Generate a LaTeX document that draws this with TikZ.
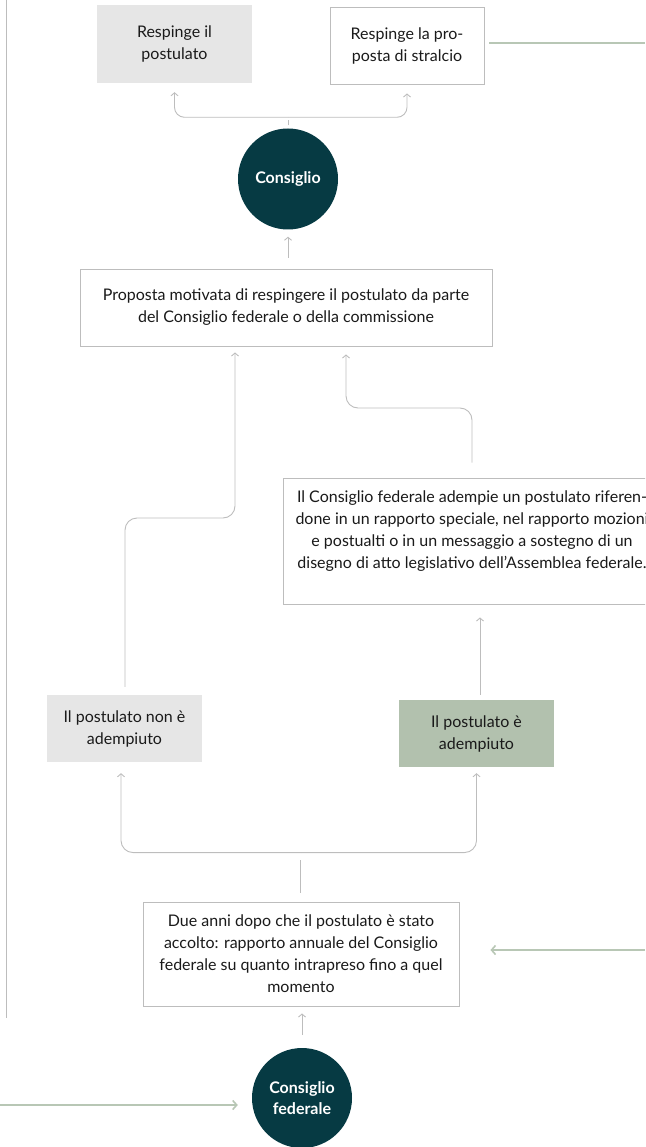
\documentclass[tikz,border=0pt]{standalone}
\usepackage{fontspec}
\setmainfont{Lato}
\usetikzlibrary{arrows.meta,shapes.geometric}
\definecolor{lgray}{HTML}{E6E6E6}
\definecolor{sage}{HTML}{B2C1AE}
\definecolor{teal}{HTML}{063A43}
\definecolor{lineg}{HTML}{BDBDBD}
\definecolor{greenl}{HTML}{B8C7B5}
\definecolor{txt}{HTML}{1A1A1A}
\tikzset{
  base/.style={align=center, text=txt, font=\fontsize{16}{22}\selectfont, inner sep=0pt},
  graybox/.style={base, fill=lgray, minimum width=155pt, minimum height=78pt},
  whitebox/.style={base, draw=lineg, line width=0.9pt, fill=white},
  sagebox/.style={base, fill=sage, minimum width=155pt, minimum height=67pt},
  disc/.style={ellipse, fill=teal, text=white, align=center, inner sep=0pt,
     font=\bfseries\fontsize{16}{21}\selectfont},
  conn/.style={draw=lineg, line width=0.9pt},
  arr/.style={conn, -{Straight Barb[length=3pt,width=7pt]}},
  gconn/.style={draw=greenl, line width=1.6pt},
  garr/.style={gconn, -{Straight Barb[length=4pt,width=9pt]}},
}
\begin{document}
\begin{tikzpicture}[x=1pt,y=-1pt]
\useasboundingbox (0,0) rectangle (645,1147);
\clip (0,0) rectangle (645,1147);
% left vertical line
\coordinate (lt) at (6,0);
\coordinate (lb) at (6,1018);
\draw[conn] (lt) -- (lb);

\node[graybox] (r1) at (174.5,44) {Respinge il\\postulato};
\node[whitebox, minimum width=154pt, minimum height=77pt] (r2) at (407,45.5) {Respinge la pro-\\posta di stralcio};
\node[disc, minimum width=100pt, minimum height=101pt] (cons) at (288,179) {Consiglio};
\node[whitebox, minimum width=412pt, minimum height=77pt] (prop) at (286,307.5)
  {Proposta motivata di respingere il postulato da parte\\del Consiglio federale o della commissione};
\node[whitebox, minimum width=378pt, minimum height=126pt] (adem) at (472,541)
  {Il Consiglio federale adempie un postulato riferen-\\done in un rapporto speciale, nel rapporto mozioni\\e postualti o in un messaggio a sostegno di un\\disegno di atto legislativo dell’Assemblea federale.\\\mbox{}};
\node[graybox, minimum height=67pt] (nonad) at (124.5,728.5) {Il postulato non è\\adempiuto};
\node[sagebox] (ad) at (476.5,733.5) {Il postulato è\\adempiuto};
\node[whitebox, minimum width=316pt, minimum height=104pt] (due) at (301,954)
  {Due anni dopo che il postulato è stato\\accolto: rapporto annuale del Consiglio\\federale su quanto intrapreso fino a quel\\momento};
\node[disc, minimum width=100pt, minimum height=100pt] (cf) at (302,1098) {Consiglio\\federale};

% green lines
\coordinate (gr1) at (645,43);
\coordinate (gr2) at (645,950);
\coordinate (gl) at (0,1105);
\draw[gconn] ([xshift=5pt]r2.east |- gr1) -- (gr1);
\draw[garr] (gr2) -- ([xshift=31pt]due.east |- gr2);
\draw[garr] (gl) -- ([xshift=-14pt]cf.west |- gl);

% fork above Consiglio
\draw[conn] ([yshift=3pt]cons.north) -- ([yshift=8pt]cons.north);
\draw[arr, rounded corners=10pt] ([yshift=11pt]cons.north) -| ([yshift=-9pt]r1.south);
\draw[arr, rounded corners=10pt] ([yshift=11pt]cons.north) -| ([yshift=-9pt]r2.south);

% prop -> cons
\draw[arr] ([yshift=11pt]prop.north -| cons.south) -- ([yshift=-7pt]cons.south);

% nonad -> prop
\coordinate (p1) at ([xshift=-51pt,yshift=-6pt]prop.south);
\coordinate (n1) at ([xshift=0.5pt,yshift=8pt]nonad.north);
\draw[arr, rounded corners=12pt] (n1) -- (n1 |- 0,518) -- (p1 |- 0,518) -- (p1);

% adem -> prop
\coordinate (p2) at ([xshift=60pt,yshift=-8pt]prop.south);
\coordinate (a1) at ([yshift=15pt]adem.north);
\draw[arr, rounded corners=12pt] (a1) -- (a1 |- 0,408) -- (p2 |- 0,408) -- (p2);

% ad -> adem
\draw[arr] ([xshift=3.5pt,yshift=5pt]ad.north) -- ([xshift=3.5pt,yshift=-13pt]ad.north |- adem.south);

% due fork
\draw[conn] ([xshift=-1pt,yshift=9pt]due.north) -- ([xshift=-1pt,yshift=42pt]due.north);
\coordinate (f2) at ([yshift=49pt]due.north);
\draw[arr, rounded corners=12pt] (f2) -| ([xshift=-3.5pt,yshift=-11pt]nonad.south);
\draw[arr, rounded corners=12pt] (f2) -| ([yshift=-6pt]ad.south);

% cf -> due
\draw[arr] ([yshift=13pt]cf.north) -- ([yshift=-7pt]due.south -| cf.north);
\end{tikzpicture}
\end{document}
